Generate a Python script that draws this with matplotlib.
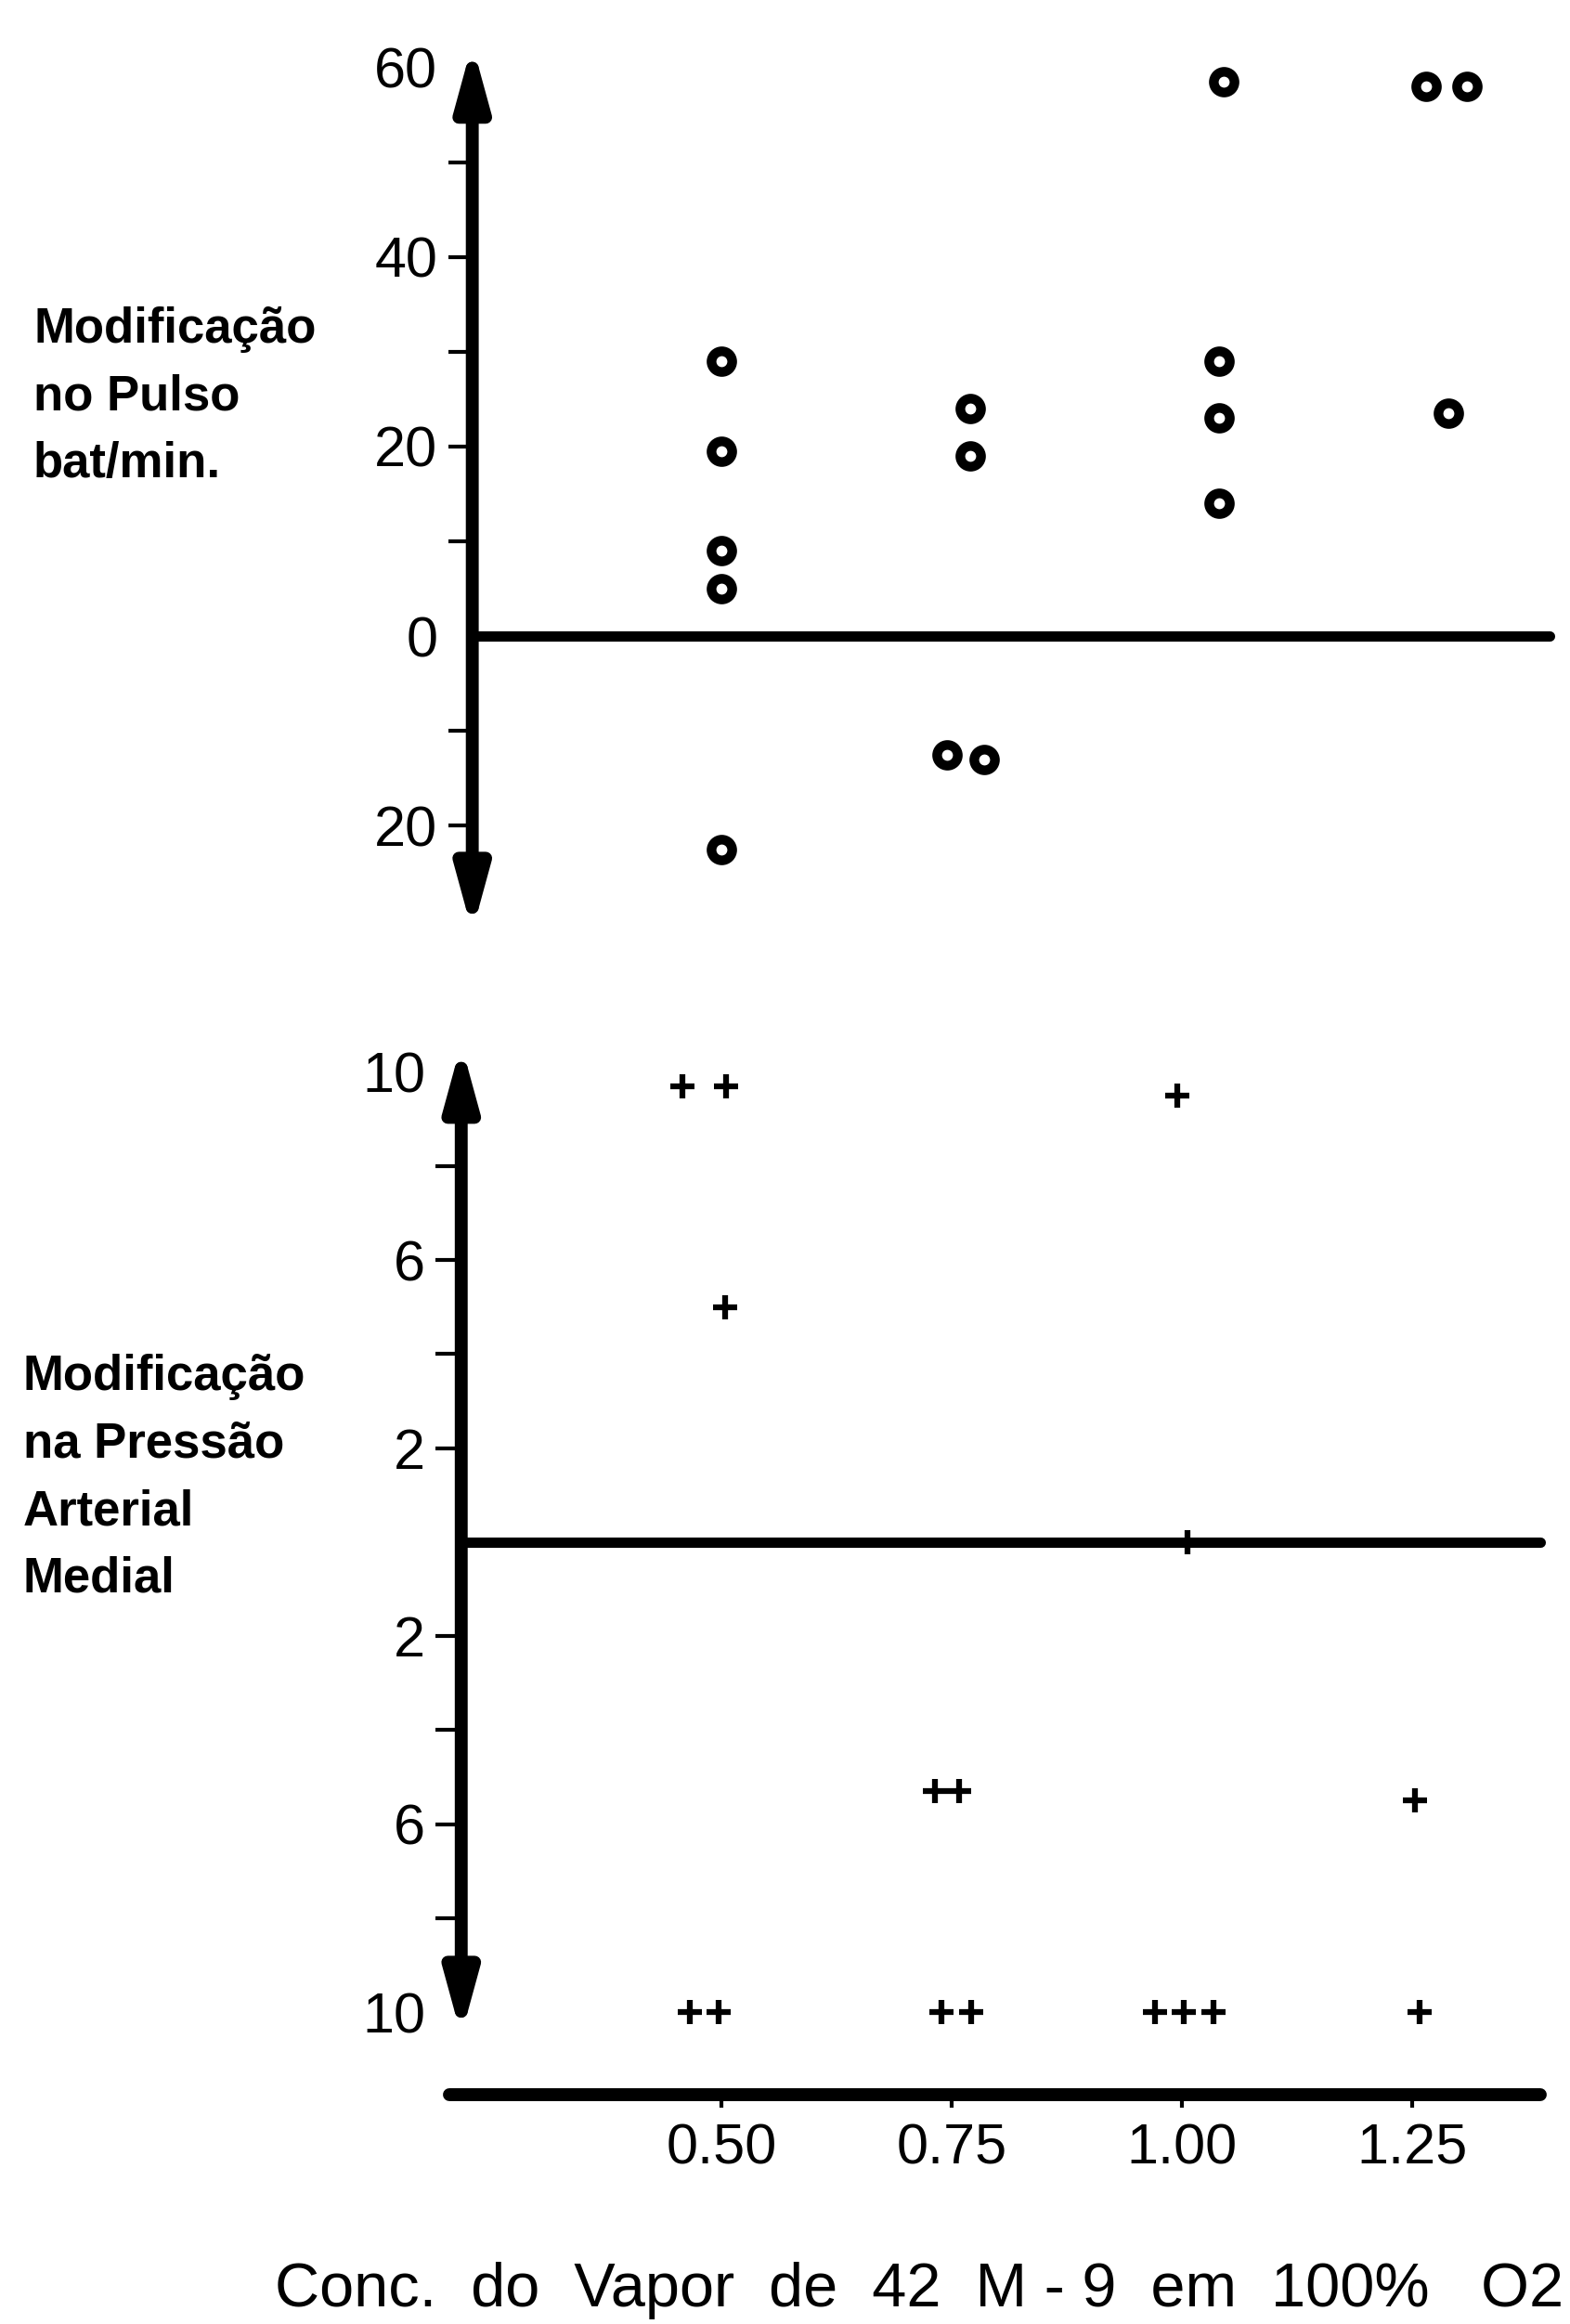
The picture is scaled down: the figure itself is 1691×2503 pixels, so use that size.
import matplotlib
matplotlib.use('Agg')
import matplotlib.pyplot as plt
from matplotlib import font_manager as fm

# ---------------- data ----------------
conc_ticks = [0.50, 0.75, 1.00, 1.25]
conc_labels = ['0.50', '0.75', '1.00', '1.25']

# Modificação no Pulso (bat/min) -- circles
pulse_x = [0.50, 0.50, 0.50, 0.50, 0.50,
           0.77, 0.77, 0.745, 0.785,
           1.045, 1.04, 1.04, 1.04,
           1.265, 1.31, 1.29]
pulse_y = [29, 19.5, 9, 5, -22.5,
           24, 19, -12.5, -13,
           58.5, 29, 23, 14,
           58, 58, 23.5]

# Modificação na Pressão Arterial Medial -- crosses
pressure_x = [0.457, 0.505, 0.995, 0.504, 1.006,
              0.732, 0.758, 1.253,
              0.465, 0.497, 0.739, 0.771, 0.971, 1.002, 1.034, 1.258]
pressure_y = [9.7, 9.7, 9.5, 5, 0,
              -5.3, -5.3, -5.5,
              -10, -10, -10, -10, -10, -10, -10, -10]

pulse_ticks = [-20, -10, 0, 10, 20, 30, 40, 50, 60]
pulse_tick_labels = ['20', '', '0', '', '20', '', '40', '', '60']
pressure_ticks = [-10, -8, -6, -4, -2, 0, 2, 4, 6, 8, 10]
pressure_tick_labels = ['10', '', '6', '', '2', '', '2', '', '6', '', '10']

pulse_label = 'Modificação\nno Pulso\nbat/min.'
pressure_label = 'Modificação\nna Pressão\nArterial\nMedial'
x_label = 'Conc.  do  Vapor  de  42  M - 9  em  100%   O2'

# ---------------- fonts ----------------
names = {f.name for f in fm.fontManager.ttflist}
base = 'Liberation Sans' if 'Liberation Sans' in names else 'DejaVu Sans'
tick_font = dict(family=base, size=44)
lab_font = dict(family=base, size=38, weight='bold')

# ---------------- figure ----------------
W, H = 1691, 2503
fig = plt.figure(figsize=(W / 100, H / 100), dpi=100)
fig.patch.set_facecolor('white')

XLIM = (0.15, 1.42)
ax_left, ax_width = 0.2545, 0.7445
ax1 = fig.add_axes([ax_left, 0.5877, ax_width, 0.4077])
ax2 = fig.add_axes([ax_left, 0.0634, ax_width, 0.5056])

arrow_style = '<|-|>,head_length=0.95,head_width=0.26'


def style_axis(ax, yaxis_x, yticks, ylabels, hide_ticks, tick_len, tick_pad):
    ax.set_xlim(*XLIM)
    ax.set_facecolor('none')
    for s in ('left', 'right', 'top', 'bottom'):
        ax.spines[s].set_visible(False)
    ax.spines['left'].set_position(('data', yaxis_x))
    ax.set_yticks(yticks)
    ax.set_yticklabels(ylabels, **tick_font)
    ax.tick_params(axis='y', direction='out', length=tick_len, width=3,
                   pad=tick_pad, colors='black', left=True, right=False)
    for t, v in zip(ax.yaxis.get_major_ticks(), yticks):
        if v in hide_ticks:
            t.tick1line.set_visible(False)


# ---------- top panel: pulse ----------
ax1.set_ylim(-34, 66)
style_axis(ax1, 0.229, pulse_ticks, pulse_tick_labels, (0, 60), 19, 8)
ax1.set_xticks([])
ax1.spines['bottom'].set_visible(True)
ax1.spines['bottom'].set_position(('data', 0))
ax1.spines['bottom'].set_bounds(0.229, 1.400)
ax1.spines['bottom'].set_linewidth(8)
ax1.spines['bottom'].set_capstyle('round')
ax1.annotate('', xy=(0.229, 62.5), xytext=(0.229, -31.2),
             arrowprops=dict(arrowstyle=arrow_style, lw=10, color='black',
                             mutation_scale=40, shrinkA=0, shrinkB=0))
ax1.plot(pulse_x, pulse_y, linestyle='none', marker='o', markersize=16,
         markeredgewidth=7.5, markerfacecolor='white', markeredgecolor='black',
         zorder=5)

# ---------- bottom panel: pressure ----------
ax2.set_ylim(-13.5, 11.5)
style_axis(ax2, 0.217, pressure_ticks, pressure_tick_labels, (-10, 0, 10), 20, 8)
# zero line
ax2.spines['top'].set_visible(True)
ax2.spines['top'].set_position(('data', 0))
ax2.spines['top'].set_bounds(0.217, 1.389)
ax2.spines['top'].set_linewidth(8)
ax2.spines['top'].set_capstyle('round')
# concentration axis
ax2.spines['bottom'].set_visible(True)
ax2.spines['bottom'].set_position(('data', -11.76))
ax2.spines['bottom'].set_bounds(0.204, 1.389)
ax2.spines['bottom'].set_linewidth(10)
ax2.spines['bottom'].set_capstyle('round')
ax2.set_xticks(conc_ticks)
ax2.set_xticklabels(conc_labels, **tick_font)
ax2.tick_params(axis='x', direction='out', length=10, width=3, pad=12,
                top=False, bottom=True)
ax2.annotate('', xy=(0.217, 10.6), xytext=(0.217, -10.5),
             arrowprops=dict(arrowstyle=arrow_style, lw=10, color='black',
                             mutation_scale=40, shrinkA=0, shrinkB=0))
ax2.plot(pressure_x, pressure_y, linestyle='none', marker='+', markersize=19,
         markeredgewidth=4.5, color='black', zorder=5)

# ---------- side labels ----------
fig.text(36 / W, 1 - 330 / H, pulse_label, ha='left', va='top',
         linespacing=1.58, **lab_font)
fig.text(25 / W, 1 - 1458 / H, pressure_label, ha='left', va='top',
         linespacing=1.58, **lab_font)
fig.text(296 / W, 1 - 2484 / H, x_label, ha='left', va='baseline',
         family=base, size=48)

fig.savefig('out.png', dpi=100, facecolor='white')
